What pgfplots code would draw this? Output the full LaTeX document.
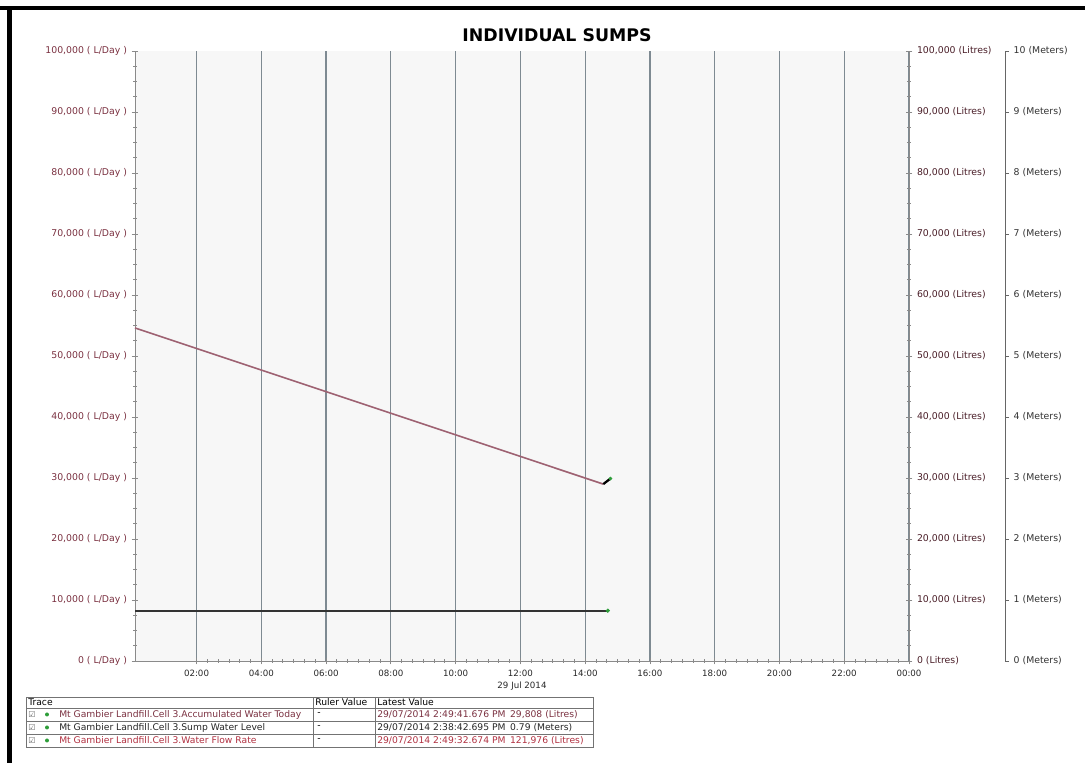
\documentclass[border=0pt]{standalone}
\usepackage{pgfplots}
\pgfplotsset{compat=1.18}
\usepackage{fontspec}
\setmainfont{DejaVu Sans}
\definecolor{maroon}{HTML}{7A3040}
\definecolor{rose}{HTML}{9E6272}
\definecolor{gridc}{HTML}{7E8A92}
\definecolor{axc}{HTML}{8A8A8A}
\definecolor{redt}{HTML}{B03040}
\definecolor{gdot}{HTML}{2E9E3A}
\newcommand{\tk}{\fontsize{7}{8}\selectfont}
\newcommand{\tx}{\fontsize{6.5}{7.5}\selectfont}
\newcommand{\tb}{\fontsize{6.9}{8}\selectfont}
\begin{document}
\begin{tikzpicture}
\begin{scope}[x=0.75pt,y=0.75pt]
\path[use as bounding box] (0,0) rectangle (1085,763);
\draw[line width=3.3pt] (0,755) -- (1085,755);
\draw[line width=3.3pt] (9.5,0) -- (9.5,756.6);
\draw[axc, line width=0.8pt] (908,661) -- (908,694);
\end{scope}
% main axis (L/Day)
\begin{axis}[at={(101.25pt,76.5pt)}, anchor=south west, scale only axis,
  width=580.5pt, height=457.5pt,
  xmin=0.1, xmax=24, ymin=0, ymax=100000,
  scaled y ticks=false,
  axis background/.style={fill=gray!6},
  axis x line*=bottom, axis y line*=left,
  axis line style={axc, line width=0.6pt},
  tick style={axc, line width=0.6pt},
  tick align=center, major tick length=5pt, minor tick length=2.5pt,
  xtick={2,4,...,24},
  xticklabels={02:00,04:00,06:00,08:00,10:00,12:00,14:00,16:00,18:00,20:00,22:00,00:00},
  minor x tick num=5,
  xmajorgrids, major grid style={gridc, line width=0.9pt},
  ytick={0,10000,...,100000},
  yticklabels={{0 ( L/Day )},{10,000 ( L/Day )},{20,000 ( L/Day )},{30,000 ( L/Day )},{40,000 ( L/Day )},{50,000 ( L/Day )},{60,000 ( L/Day )},{70,000 ( L/Day )},{80,000 ( L/Day )},{90,000 ( L/Day )},{100,000 ( L/Day )}},
  minor y tick num=3,
  x tick label style={font=\tx, text=black!85, yshift=-1pt},
  y tick label style={font=\tk, text=maroon},
  clip=false]
\addplot[rose, line width=1.2pt] coordinates {(0.1,54600) (14.56,29000)};
\addplot[black!80, line width=1.5pt] coordinates {(0.1,8250) (14.7,8250)};
\addplot[gdot, only marks, mark=*, mark size=1.4pt] coordinates {(14.7,8250)};
\addplot[black, line width=1.7pt] coordinates {(14.56,29000) (14.78,29900)};
\addplot[gdot, only marks, mark=*, mark size=1.2pt] coordinates {(14.78,29900)};
\end{axis}
% Litres axis
\begin{axis}[at={(101.25pt,76.5pt)}, anchor=south west, scale only axis,
  width=580.5pt, height=457.5pt,
  xmin=0.1, xmax=24, ymin=0, ymax=100000,
  scaled y ticks=false,
  axis x line=none, axis y line*=right,
  axis line style={axc, line width=0.6pt},
  tick style={axc, line width=0.6pt},
  tick align=center, major tick length=5pt, minor tick length=2.5pt,
  ytick={0,10000,...,100000},
  yticklabels={{0 (Litres)},{10,000 (Litres)},{20,000 (Litres)},{30,000 (Litres)},{40,000 (Litres)},{50,000 (Litres)},{60,000 (Litres)},{70,000 (Litres)},{80,000 (Litres)},{90,000 (Litres)},{100,000 (Litres)}},
  minor y tick num=3,
  y tick label style={font=\tk, text=maroon!60!black}]
\end{axis}
% Meters axis
\begin{axis}[at={(101.25pt,76.5pt)}, anchor=south west, scale only axis,
  width=652.5pt, height=457.5pt,
  xmin=0, xmax=1, ymin=0, ymax=10,
  axis x line=none, axis y line*=right,
  axis line style={black!60, line width=0.7pt},
  tick style={black!60, line width=0.6pt},
  tick align=outside, major tick length=3pt,
  ytick={0,1,...,10},
  yticklabels={{0 (Meters)},{1 (Meters)},{2 (Meters)},{3 (Meters)},{4 (Meters)},{5 (Meters)},{6 (Meters)},{7 (Meters)},{8 (Meters)},{9 (Meters)},{10 (Meters)}},
  y tick label style={font=\tk, text=black!80}]
\end{axis}
\begin{scope}[x=0.75pt,y=0.75pt]
\node[font=\fontsize{13}{15}\selectfont\bfseries] at (557,728) {INDIVIDUAL SUMPS};
\node[font=\tx, text=black!85] at (522,77) {29 Jul 2014};
% trace table
\draw[black!55, line width=0.5pt] (26,16) rectangle (593,66);
\draw[black!55, line width=0.5pt] (26,55) -- (593,55);
\draw[black!55, line width=0.5pt] (26,42) -- (593,42);
\draw[black!55, line width=0.5pt] (26,29) -- (593,29);
\draw[black!55, line width=0.5pt] (313,16) -- (313,66);
\draw[black!55, line width=0.5pt] (375,16) -- (375,66);
\node[font=\tb, anchor=west, inner sep=0pt] at (28,61) {Trace};
\node[font=\tb, anchor=west, inner sep=0pt] at (315,61) {Ruler Value};
\node[font=\tb, anchor=west, inner sep=0pt] at (377,61) {Latest Value};
\foreach \yy in {48.5,35.5,22.5}{
  \node[font=\fontsize{6}{7}\selectfont, text=black!60, anchor=west, inner sep=0pt] at (28,\yy) {☑};
  \fill[gdot] (47,\yy) circle (2);
  \node[font=\tb, anchor=west, inner sep=0pt] at (317,\yy) {-};
}
\node[font=\tb, text=maroon, anchor=west, inner sep=0pt] at (59,48.5) {Mt Gambier Landfill.Cell 3.Accumulated Water Today};
\node[font=\tb, text=black!85, anchor=west, inner sep=0pt] at (59,35.5) {Mt Gambier Landfill.Cell 3.Sump Water Level};
\node[font=\tb, text=redt, anchor=west, inner sep=0pt] at (59,22.5) {Mt Gambier Landfill.Cell 3.Water Flow Rate};
\node[font=\tb, text=maroon, anchor=west, inner sep=0pt] at (377,48.5) {29/07/2014 2:49:41.676 PM\enspace 29,808 (Litres)};
\node[font=\tb, text=black!85, anchor=west, inner sep=0pt] at (377,35.5) {29/07/2014 2:38:42.695 PM\enspace 0.79 (Meters)};
\node[font=\tb, text=redt, anchor=west, inner sep=0pt] at (377,22.5) {29/07/2014 2:49:32.674 PM\enspace 121,976 (Litres)};
\end{scope}
\end{tikzpicture}
\end{document}
